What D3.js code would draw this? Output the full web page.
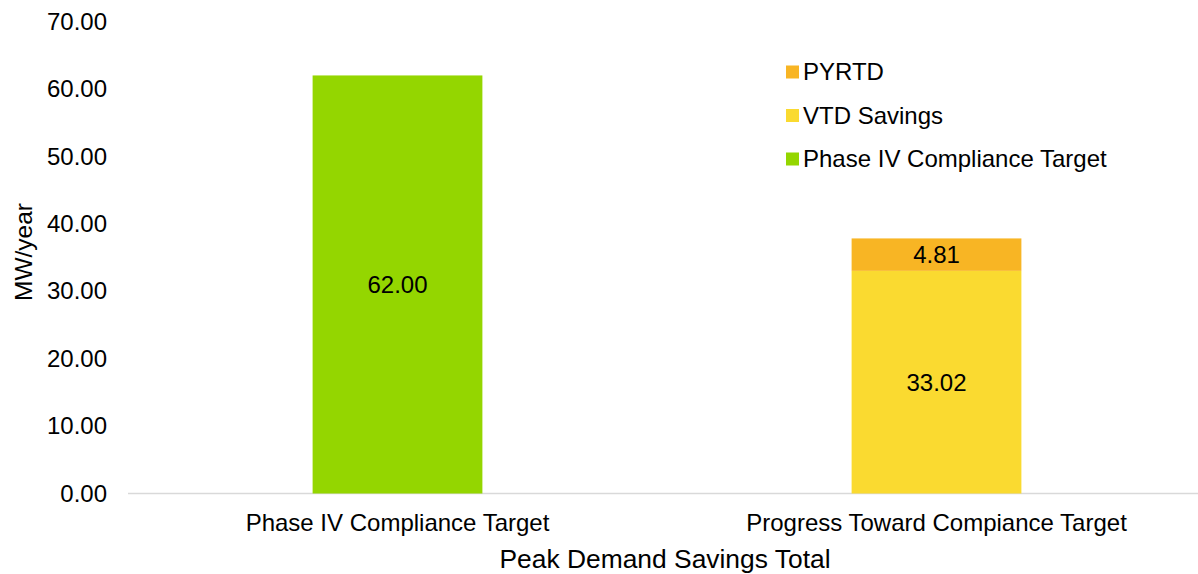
<!DOCTYPE html>
<html>
<head>
<meta charset="utf-8">
<script src="https://cdn.jsdelivr.net/npm/d3@7"></script>
<style>
  html, body { margin: 0; padding: 0; background: #fff; }
  svg { display: block; }
  text { font-family: "Liberation Sans", Arial, sans-serif; fill: #000; }
</style>
</head>
<body>
<svg id="chart" width="1198" height="574"></svg>
<script>
const categories = ["Phase IV Compliance Target", "Progress Toward Compiance Target"];
const seriesNames = ["Phase IV Compliance Target", "VTD Savings", "PYRTD"];
const targetValues = [62.00, 0];
const vtdValues = [0, 33.02];
const pyrtdValues = [0, 4.81];
const yTicks = [0, 10, 20, 30, 40, 50, 60, 70];
const colors = ["#94D600", "#FADA30", "#F8B524"];
const legendOrder = ["PYRTD", "VTD Savings", "Phase IV Compliance Target"];

const svg = d3.select("#chart");
const margin = { left: 128, right: -8, top: 21.5, bottom: 80.5 };
const W = 1198, H = 574;

const x = d3.scaleBand().domain(categories).range([margin.left, W - margin.right]).padding(0);
const y = d3.scaleLinear().domain([0, 70]).range([H - margin.bottom, margin.top]);

const rows = categories.map((c, i) => ({
  cat: c,
  "Phase IV Compliance Target": targetValues[i],
  "VTD Savings": vtdValues[i],
  "PYRTD": pyrtdValues[i]
}));
const stack = d3.stack().keys(seriesNames)(rows);
const color = d3.scaleOrdinal().domain(seriesNames).range(colors);

const barW = x.bandwidth() * 0.315;

// axis line
svg.append("line")
  .attr("x1", margin.left).attr("x2", W - margin.right)
  .attr("y1", y(0)).attr("y2", y(0))
  .attr("stroke", "#d9d9d9").attr("stroke-width", 1.5);

// y axis tick labels
const yAxis = d3.axisLeft(y).tickValues(yTicks).tickFormat(d3.format(".2f")).tickSize(0).tickPadding(21);
const gy = svg.append("g").attr("transform", `translate(${margin.left},0)`).call(yAxis);
gy.select(".domain").remove();
gy.selectAll("text").attr("font-size", 24).attr("fill", "#000")
  .attr("font-family", "'Liberation Sans', Arial, sans-serif");

// bars
stack.forEach(layer => {
  layer.forEach((d, i) => {
    const v = d[1] - d[0];
    if (v <= 0) return;
    const cx = x(categories[i]) + x.bandwidth() / 2;
    svg.append("rect")
      .attr("x", cx - barW / 2)
      .attr("y", y(d[1]))
      .attr("width", barW)
      .attr("height", y(d[0]) - y(d[1]))
      .attr("fill", color(layer.key));
    svg.append("text")
      .attr("x", cx)
      .attr("y", (y(d[0]) + y(d[1])) / 2)
      .attr("dy", "0.35em")
      .attr("text-anchor", "middle")
      .attr("font-size", 24)
      .text(d3.format(".2f")(v));
  });
});

// x category labels
const xAxis = d3.axisBottom(x).tickSize(0).tickPadding(20);
const gx = svg.append("g").attr("transform", `translate(0,${y(0)})`).call(xAxis);
gx.select(".domain").remove();
gx.selectAll("text").attr("font-size", 24).attr("fill", "#000")
  .attr("font-family", "'Liberation Sans', Arial, sans-serif");

// axis titles
svg.append("text")
  .attr("x", (margin.left + W - margin.right) / 2 - 2)
  .attr("y", 568)
  .attr("text-anchor", "middle")
  .attr("font-size", 26.4)
  .text("Peak Demand Savings Total");

svg.append("text")
  .attr("transform", `translate(32,252) rotate(-90)`)
  .attr("text-anchor", "middle")
  .attr("font-size", 24.5)
  .text("MW/year");

// legend
const lg = svg.append("g");
legendOrder.forEach((name, i) => {
  const cy = 72 + i * 43.5;
  lg.append("rect").attr("x", 786).attr("y", cy - 6.5).attr("width", 13).attr("height", 13)
    .attr("fill", color(name));
  lg.append("text").attr("x", 803).attr("y", cy).attr("dy", "0.35em")
    .attr("font-size", 24).text(name);
});
</script>
</body>
</html>
